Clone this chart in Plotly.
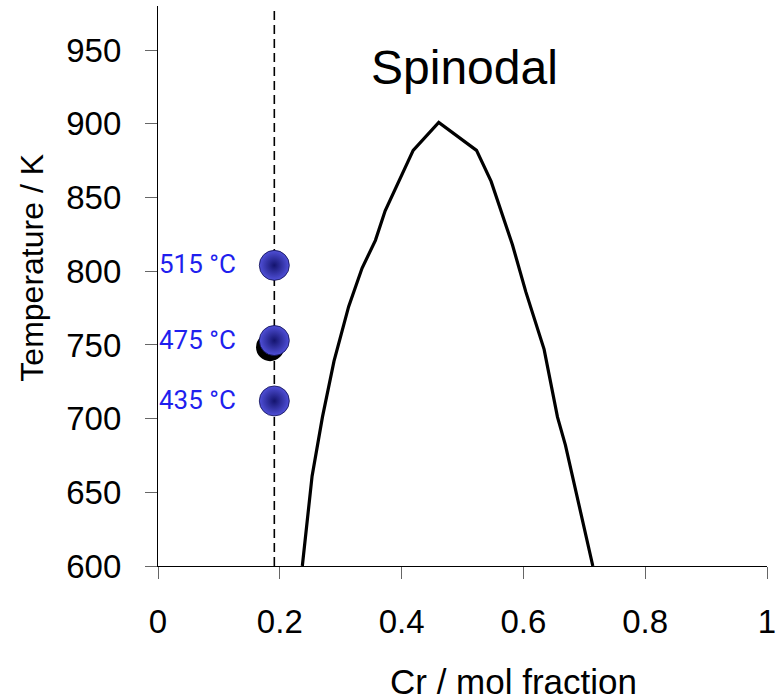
import plotly.graph_objects as go

# Spinodal curve (Cr mol fraction, Temperature K)
spin_x = [0.237, 0.253, 0.270, 0.289, 0.313, 0.335, 0.357, 0.373, 0.419, 0.461,
          0.523, 0.547, 0.582, 0.604, 0.634, 0.656, 0.669, 0.714]
spin_t = [600, 661, 701, 739, 776, 802, 821, 841, 882, 901,
          882, 861, 818, 786, 747, 701, 682, 600]

# Ageing temperatures (blue balls)
age_x = [0.191, 0.191, 0.191]
age_t = [804, 753, 712]
age_labels = ["515 °C", "475 °C", "435 °C"]

# Black point partly hidden behind 475 °C ball
black_x = [0.184]
black_t = [748.5]

# Dashed composition line
comp_x = 0.191
x_range = [0, 1]
y_range = [600, 980]
x_ticks = [0, 0.2, 0.4, 0.6, 0.8, 1]
x_ticklabels = ["0", "0.2", "0.4", "0.6", "0.8", "1"]
y_ticks = [600, 650, 700, 750, 800, 850, 900, 950]

fig = go.Figure()

fig.add_trace(go.Scatter(x=[comp_x, comp_x], y=y_range, mode="lines",
                         line=dict(color="black", width=1.6, dash="9px,5px"),
                         hoverinfo="skip", showlegend=False))

fig.add_trace(go.Scatter(x=spin_x, y=spin_t, mode="lines",
                         line=dict(color="black", width=3.2),
                         showlegend=False))

fig.add_trace(go.Scatter(x=black_x, y=black_t, mode="markers",
                         marker=dict(size=28, color="black"),
                         showlegend=False))

fig.add_trace(go.Scatter(x=age_x, y=age_t, mode="markers",
                         marker=dict(size=30, color="#5050d8",
                                     gradient=dict(type="radial", color="#14146e"),
                                     line=dict(width=0.8, color="#0c0c50")),
                         showlegend=False))

for xv, tv, lab in zip(age_x, age_t, age_labels):
    fig.add_annotation(x=xv, y=tv, text=lab, showarrow=False,
                       xanchor="right", yanchor="middle", xshift=-36, yshift=1,
                       font=dict(family="Roboto", size=26, color="#1f1fee"))

fig.add_annotation(x=0.504, y=938, text="Spinodal", showarrow=False,
                   xanchor="center", yanchor="middle",
                   font=dict(family="Liberation Sans, Arial", size=48, color="black"))

fig.add_annotation(xref="paper", yref="paper", x=0.583, y=-0.207,
                   text="Cr / mol fraction", showarrow=False,
                   xanchor="center", yanchor="middle",
                   font=dict(family="Liberation Sans, Arial", size=35, color="black"))

fig.add_annotation(xref="paper", yref="paper", x=-0.206, y=0.532,
                   text="Temperature / K", showarrow=False, textangle=-90,
                   xanchor="center", yanchor="middle",
                   font=dict(family="Liberation Sans, Arial", size=32, color="black"))

axis_common = dict(showgrid=False, zeroline=False, showline=True,
                   linecolor="black", linewidth=1.2,
                   ticks="outside", ticklen=12, tickcolor="#666", tickwidth=1.2,
                   tickfont=dict(family="Liberation Sans, Arial", size=33, color="black"))

fig.update_xaxes(range=x_range, tickvals=x_ticks, ticktext=x_ticklabels,
                 ticklabelstandoff=14, **axis_common)
fig.update_yaxes(range=y_range, tickvals=y_ticks, ticklabelstandoff=17,
                 **axis_common)

fig.update_layout(width=782, height=700,
                  margin=dict(l=158, r=11, t=6, b=134),
                  plot_bgcolor="white", paper_bgcolor="white")

fig.write_html("out.html")
